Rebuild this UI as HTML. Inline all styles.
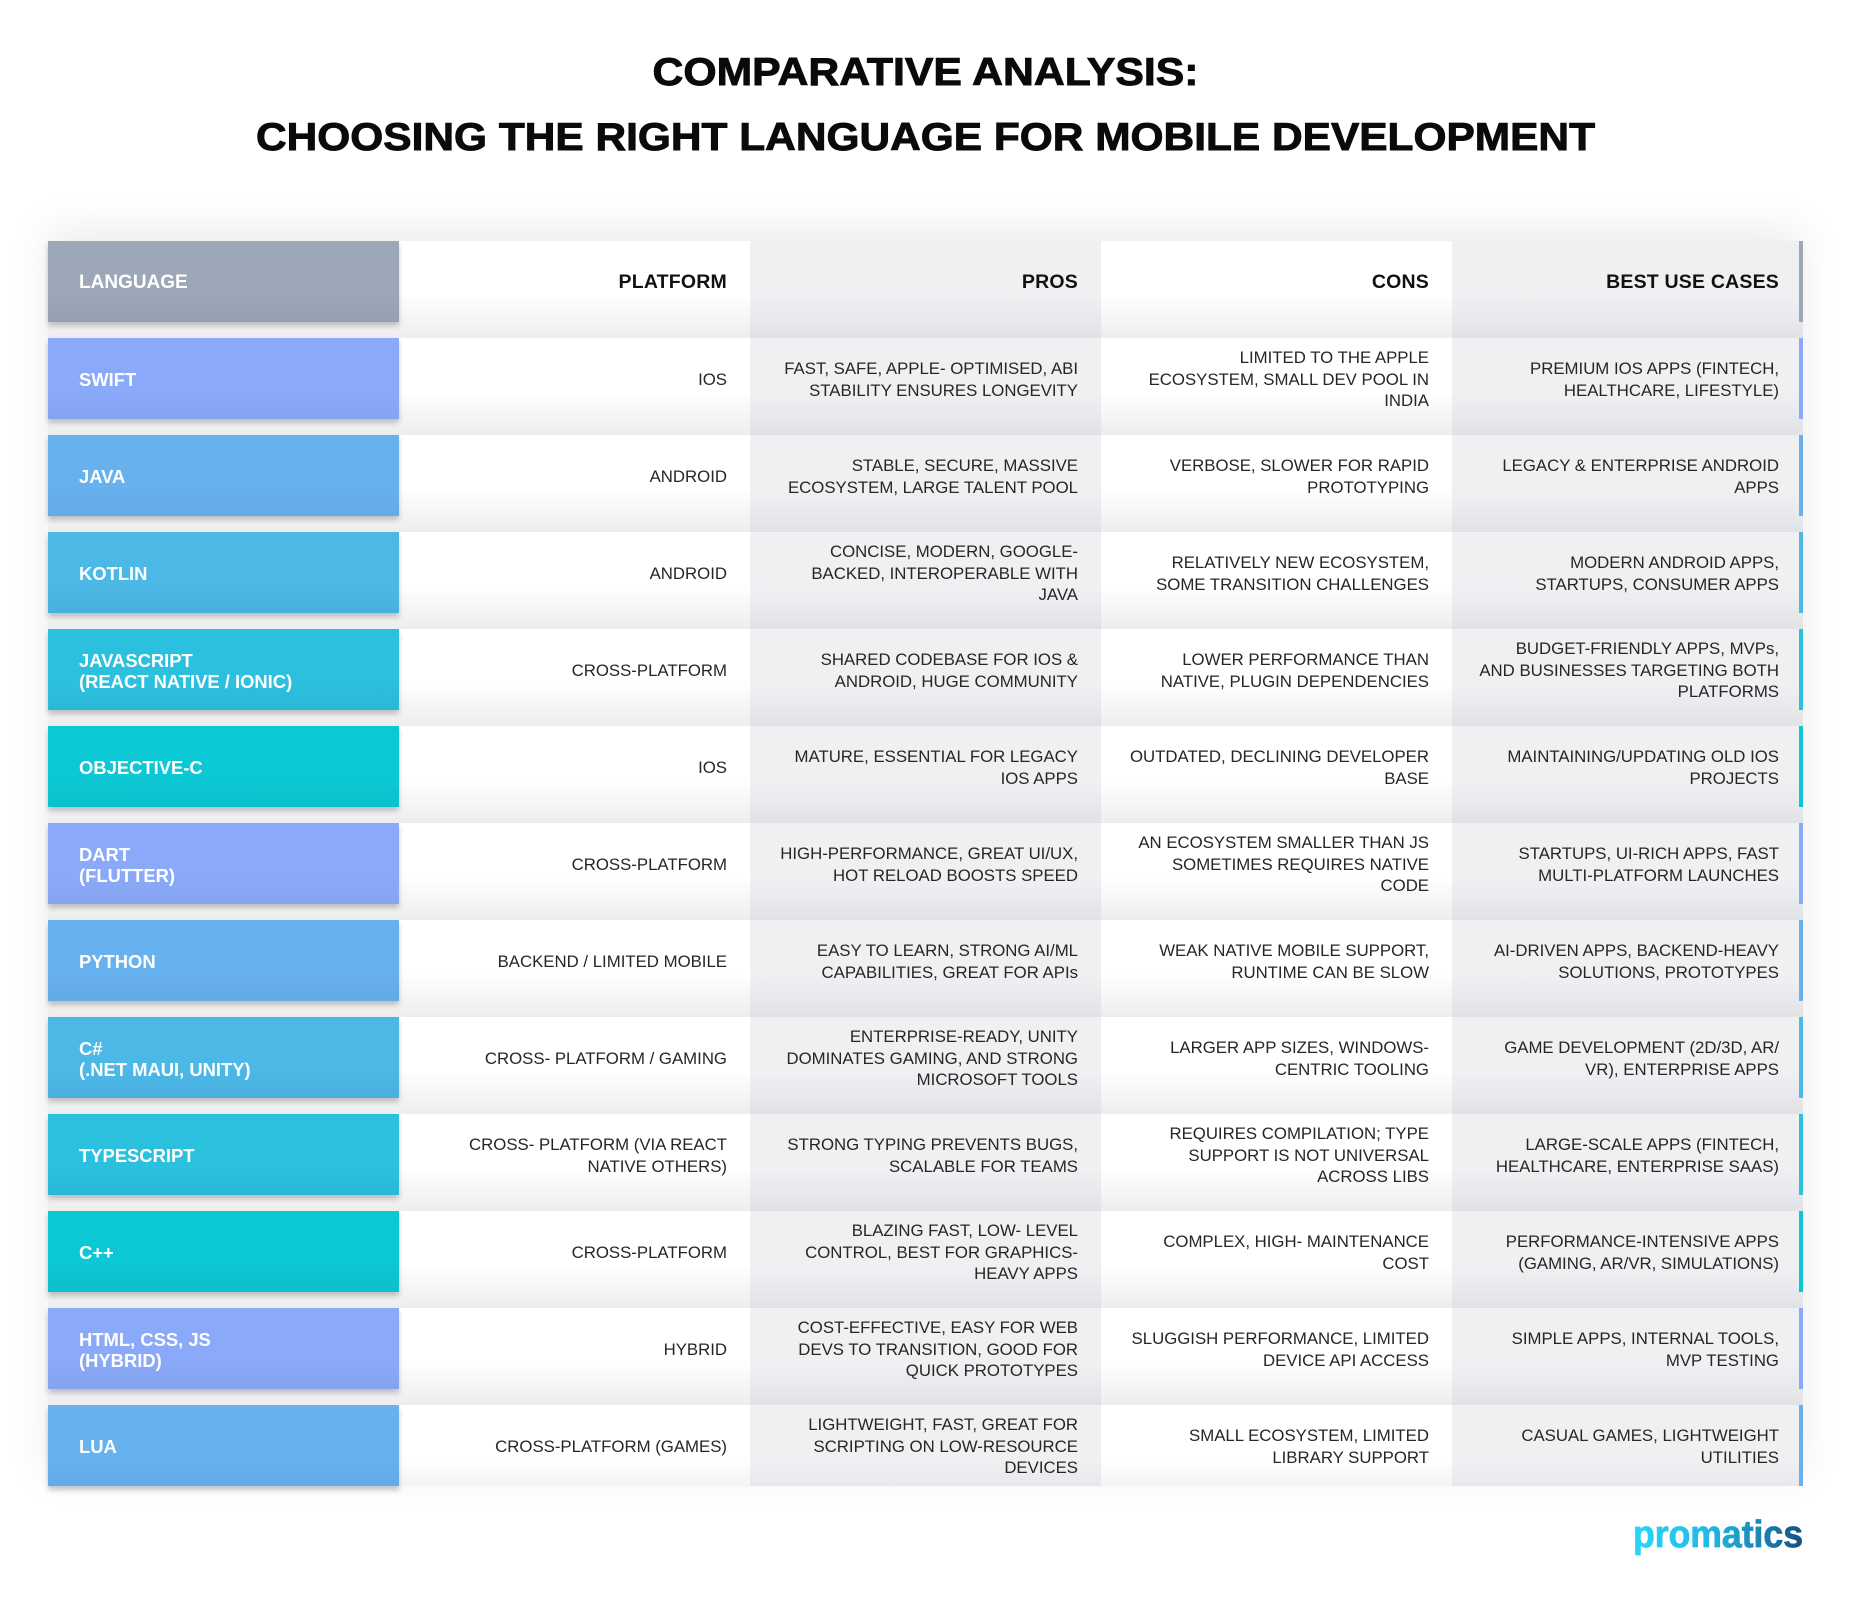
<!DOCTYPE html>
<html>
<head>
<meta charset="utf-8">
<style>
  html,body{margin:0;padding:0;background:#fff;}
  body{width:1851px;height:1604px;position:relative;overflow:hidden;font-family:"Liberation Sans",Arial,sans-serif;}
  .wrap{position:absolute;left:48px;top:241px;width:1755px;height:1245px;background:#fff;box-shadow:0 -12px 40px rgba(0,0,0,0.08);}
  .col{position:absolute;top:241px;width:351px;height:1245px;}
  .w{background:repeating-linear-gradient(to bottom,#ffffff 0px,#ffffff 54px,#f7f7f7 74px,#ededed 97px);}
  .g{background:repeating-linear-gradient(to bottom,#eff0f2 0px,#eff0f2 56px,#e9eaed 76px,#e1e2e5 97px);}
  .lang{position:absolute;left:48px;width:351px;height:81px;box-sizing:border-box;padding-left:31px;padding-top:2px;display:flex;flex-direction:column;justify-content:center;color:#fff;font-weight:bold;font-size:18.4px;line-height:21px;white-space:nowrap;box-shadow:0 4px 5px rgba(0,0,0,0.22);}
  .lang::after{content:"";position:absolute;left:0;top:0;right:0;bottom:0;background:linear-gradient(to bottom,rgba(0,0,40,0) 65%,rgba(0,0,40,0.045) 100%);}
  .bar{position:absolute;left:1799px;width:4px;height:81px;}
  .c{position:absolute;width:351px;height:81px;box-sizing:border-box;padding-right:23px;padding-top:2px;display:flex;flex-direction:column;justify-content:center;text-align:right;white-space:nowrap;font-size:16.8px;line-height:21.5px;color:#262626;}
  .c2{left:399px}.c3{left:750px}.c4{left:1101px}.c5{left:1452px;padding-right:24px}
  .h{font-weight:bold;font-size:19.5px;color:#111;letter-spacing:0.2px;}
  .p{background-color:#8aaaf9}.j{background-color:#67b1ef}.k{background-color:#4cb8e6}.s{background-color:#2cc0df}.o{background-color:#0cc8d4}.hd{background-color:#9ca8b8}
</style>
</head>
<body>

<svg width="1851" height="200" style="position:absolute;left:0;top:0" xmlns="http://www.w3.org/2000/svg">
  <text x="925.5" y="85" text-anchor="middle" font-family="Liberation Sans, Arial, sans-serif" font-weight="bold" font-size="39" fill="#0a0a0a" stroke="#0a0a0a" stroke-width="0.9" textLength="546" lengthAdjust="spacingAndGlyphs">COMPARATIVE ANALYSIS:</text>
  <text x="925.5" y="150" text-anchor="middle" font-family="Liberation Sans, Arial, sans-serif" font-weight="bold" font-size="39" fill="#0a0a0a" stroke="#0a0a0a" stroke-width="0.9" textLength="1339" lengthAdjust="spacingAndGlyphs">CHOOSING THE RIGHT LANGUAGE FOR MOBILE DEVELOPMENT</text>
</svg>

<div class="wrap"></div>
<div class="col w" style="left:48px"></div>
<div class="col w" style="left:399px"></div>
<div class="col g" style="left:750px"></div>
<div class="col w" style="left:1101px"></div>
<div class="col g" style="left:1452px"></div>

<!-- Header -->
<div class="lang hd" style="top:241px;font-size:19px;">LANGUAGE</div>
<div class="bar hd" style="top:241px"></div>
<div class="c c2 h" style="top:241px">PLATFORM</div>
<div class="c c3 h" style="top:241px">PROS</div>
<div class="c c4 h" style="top:241px">CONS</div>
<div class="c c5 h" style="top:241px">BEST USE CASES</div>

<!-- 1 SWIFT -->
<div class="lang p" style="top:338px">SWIFT</div>
<div class="bar p" style="top:338px"></div>
<div class="c c2" style="top:338px">IOS</div>
<div class="c c3" style="top:338px">FAST, SAFE, APPLE- OPTIMISED, ABI<br>STABILITY ENSURES LONGEVITY</div>
<div class="c c4" style="top:338px">LIMITED TO THE APPLE<br>ECOSYSTEM, SMALL DEV POOL IN<br>INDIA</div>
<div class="c c5" style="top:338px">PREMIUM IOS APPS (FINTECH,<br>HEALTHCARE, LIFESTYLE)</div>

<!-- 2 JAVA -->
<div class="lang j" style="top:435px">JAVA</div>
<div class="bar j" style="top:435px"></div>
<div class="c c2" style="top:435px">ANDROID</div>
<div class="c c3" style="top:435px">STABLE, SECURE, MASSIVE<br>ECOSYSTEM, LARGE TALENT POOL</div>
<div class="c c4" style="top:435px">VERBOSE, SLOWER FOR RAPID<br>PROTOTYPING</div>
<div class="c c5" style="top:435px">LEGACY &amp; ENTERPRISE ANDROID<br>APPS</div>

<!-- 3 KOTLIN -->
<div class="lang k" style="top:532px">KOTLIN</div>
<div class="bar k" style="top:532px"></div>
<div class="c c2" style="top:532px">ANDROID</div>
<div class="c c3" style="top:532px">CONCISE, MODERN, GOOGLE-<br>BACKED, INTEROPERABLE WITH<br>JAVA</div>
<div class="c c4" style="top:532px">RELATIVELY NEW ECOSYSTEM,<br>SOME TRANSITION CHALLENGES</div>
<div class="c c5" style="top:532px">MODERN ANDROID APPS,<br>STARTUPS, CONSUMER APPS</div>

<!-- 4 JAVASCRIPT -->
<div class="lang s" style="top:629px">JAVASCRIPT<br>(REACT NATIVE / IONIC)</div>
<div class="bar s" style="top:629px"></div>
<div class="c c2" style="top:629px">CROSS-PLATFORM</div>
<div class="c c3" style="top:629px">SHARED CODEBASE FOR IOS &amp;<br>ANDROID, HUGE COMMUNITY</div>
<div class="c c4" style="top:629px">LOWER PERFORMANCE THAN<br>NATIVE, PLUGIN DEPENDENCIES</div>
<div class="c c5" style="top:629px">BUDGET-FRIENDLY APPS, MVPs,<br>AND BUSINESSES TARGETING BOTH<br>PLATFORMS</div>

<!-- 5 OBJECTIVE-C -->
<div class="lang o" style="top:726px">OBJECTIVE-C</div>
<div class="bar o" style="top:726px"></div>
<div class="c c2" style="top:726px">IOS</div>
<div class="c c3" style="top:726px">MATURE, ESSENTIAL FOR LEGACY<br>IOS APPS</div>
<div class="c c4" style="top:726px">OUTDATED, DECLINING DEVELOPER<br>BASE</div>
<div class="c c5" style="top:726px">MAINTAINING/UPDATING OLD IOS<br>PROJECTS</div>

<!-- 6 DART -->
<div class="lang p" style="top:823px">DART<br>(FLUTTER)</div>
<div class="bar p" style="top:823px"></div>
<div class="c c2" style="top:823px">CROSS-PLATFORM</div>
<div class="c c3" style="top:823px">HIGH-PERFORMANCE, GREAT UI/UX,<br>HOT RELOAD BOOSTS SPEED</div>
<div class="c c4" style="top:823px">AN ECOSYSTEM SMALLER THAN JS<br>SOMETIMES REQUIRES NATIVE<br>CODE</div>
<div class="c c5" style="top:823px">STARTUPS, UI-RICH APPS, FAST<br>MULTI-PLATFORM LAUNCHES</div>

<!-- 7 PYTHON -->
<div class="lang j" style="top:920px">PYTHON</div>
<div class="bar j" style="top:920px"></div>
<div class="c c2" style="top:920px">BACKEND / LIMITED MOBILE</div>
<div class="c c3" style="top:920px">EASY TO LEARN, STRONG AI/ML<br>CAPABILITIES, GREAT FOR APIs</div>
<div class="c c4" style="top:920px">WEAK NATIVE MOBILE SUPPORT,<br>RUNTIME CAN BE SLOW</div>
<div class="c c5" style="top:920px">AI-DRIVEN APPS, BACKEND-HEAVY<br>SOLUTIONS, PROTOTYPES</div>

<!-- 8 C# -->
<div class="lang k" style="top:1017px">C#<br>(.NET MAUI, UNITY)</div>
<div class="bar k" style="top:1017px"></div>
<div class="c c2" style="top:1017px">CROSS- PLATFORM / GAMING</div>
<div class="c c3" style="top:1017px">ENTERPRISE-READY, UNITY<br>DOMINATES GAMING, AND STRONG<br>MICROSOFT TOOLS</div>
<div class="c c4" style="top:1017px">LARGER APP SIZES, WINDOWS-<br>CENTRIC TOOLING</div>
<div class="c c5" style="top:1017px">GAME DEVELOPMENT (2D/3D, AR/<br>VR), ENTERPRISE APPS</div>

<!-- 9 TYPESCRIPT -->
<div class="lang s" style="top:1114px">TYPESCRIPT</div>
<div class="bar s" style="top:1114px"></div>
<div class="c c2" style="top:1114px">CROSS- PLATFORM (VIA REACT<br>NATIVE OTHERS)</div>
<div class="c c3" style="top:1114px">STRONG TYPING PREVENTS BUGS,<br>SCALABLE FOR TEAMS</div>
<div class="c c4" style="top:1114px">REQUIRES COMPILATION; TYPE<br>SUPPORT IS NOT UNIVERSAL<br>ACROSS LIBS</div>
<div class="c c5" style="top:1114px">LARGE-SCALE APPS (FINTECH,<br>HEALTHCARE, ENTERPRISE SAAS)</div>

<!-- 10 C++ -->
<div class="lang o" style="top:1211px">C++</div>
<div class="bar o" style="top:1211px"></div>
<div class="c c2" style="top:1211px">CROSS-PLATFORM</div>
<div class="c c3" style="top:1211px">BLAZING FAST, LOW- LEVEL<br>CONTROL, BEST FOR GRAPHICS-<br>HEAVY APPS</div>
<div class="c c4" style="top:1211px">COMPLEX, HIGH- MAINTENANCE<br>COST</div>
<div class="c c5" style="top:1211px">PERFORMANCE-INTENSIVE APPS<br>(GAMING, AR/VR, SIMULATIONS)</div>

<!-- 11 HTML -->
<div class="lang p" style="top:1308px">HTML, CSS, JS<br>(HYBRID)</div>
<div class="bar p" style="top:1308px"></div>
<div class="c c2" style="top:1308px">HYBRID</div>
<div class="c c3" style="top:1308px">COST-EFFECTIVE, EASY FOR WEB<br>DEVS TO TRANSITION, GOOD FOR<br>QUICK PROTOTYPES</div>
<div class="c c4" style="top:1308px">SLUGGISH PERFORMANCE, LIMITED<br>DEVICE API ACCESS</div>
<div class="c c5" style="top:1308px">SIMPLE APPS, INTERNAL TOOLS,<br>MVP TESTING</div>

<!-- 12 LUA -->
<div class="lang j" style="top:1405px">LUA</div>
<div class="bar j" style="top:1405px"></div>
<div class="c c2" style="top:1405px">CROSS-PLATFORM (GAMES)</div>
<div class="c c3" style="top:1405px">LIGHTWEIGHT, FAST, GREAT FOR<br>SCRIPTING ON LOW-RESOURCE<br>DEVICES</div>
<div class="c c4" style="top:1405px">SMALL ECOSYSTEM, LIMITED<br>LIBRARY SUPPORT</div>
<div class="c c5" style="top:1405px">CASUAL GAMES, LIGHTWEIGHT<br>UTILITIES</div>

<!-- Logo -->
<svg width="1851" height="1604" style="position:absolute;left:0;top:0;pointer-events:none" xmlns="http://www.w3.org/2000/svg">
  <defs>
    <linearGradient id="lg" x1="1633" y1="0" x2="1803" y2="0" gradientUnits="userSpaceOnUse">
      <stop offset="0" stop-color="#27d6fa"/>
      <stop offset="0.45" stop-color="#22b9e2"/>
      <stop offset="0.75" stop-color="#1a86b4"/>
      <stop offset="1" stop-color="#134f80"/>
    </linearGradient>
  </defs>
  <text x="1633" y="1547" font-family="Liberation Sans, Arial, sans-serif" font-weight="bold" font-size="38" fill="url(#lg)" stroke="url(#lg)" stroke-width="0.8" textLength="170" lengthAdjust="spacingAndGlyphs">promatics</text>
</svg>

</body>
</html>
